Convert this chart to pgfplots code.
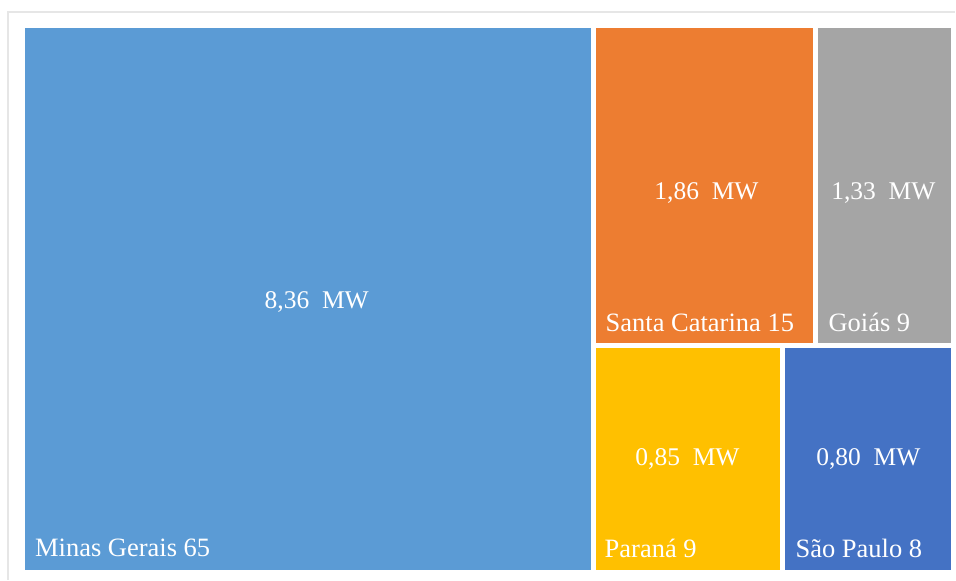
\documentclass[border=0pt]{standalone}
\usepackage{pgfplots}
\pgfplotsset{compat=1.18}
\usepackage{fontspec}
\setmainfont{Liberation Serif}
\definecolor{cMG}{HTML}{5B9BD5}
\definecolor{cSC}{HTML}{ED7D31}
\definecolor{cGO}{HTML}{A5A5A5}
\definecolor{cPR}{HTML}{FFC000}
\definecolor{cSP}{HTML}{4472C4}
\definecolor{frame}{HTML}{E6E6E6}
\tikzset{lab/.style={font=\fontsize{25.5}{30}\selectfont, text=white, inner sep=0pt},
         nam/.style={font=\fontsize{26.5}{30}\selectfont, text=white, inner sep=0pt, anchor=base west}}
\begin{document}
\begin{tikzpicture}
\begin{axis}[
  scale only axis, width=956pt, height=580pt,
  xmin=0, xmax=956, ymin=0, ymax=580, y dir=reverse,
  hide axis, clip=false,
]
\fill[white] (axis cs:0,0) rectangle (axis cs:956,580);
\draw[frame, line width=1.5pt] (axis cs:8,580) -- (axis cs:8,12) -- (axis cs:956,12);
% rectangles: treemap tiles (x0,y0)-(x1,y1) in pixel units
\addplot[fill=cMG, draw=none] coordinates {(25,28) (591,28) (591,570) (25,570)} -- cycle;
\addplot[fill=cSC, draw=none] coordinates {(596,28) (814,28) (814,343) (596,343)} -- cycle;
\addplot[fill=cGO, draw=none] coordinates {(819,28) (952,28) (952,343) (819,343)} -- cycle;
\addplot[fill=cPR, draw=none] coordinates {(596,348) (781,348) (781,570) (596,570)} -- cycle;
\addplot[fill=cSP, draw=none] coordinates {(786,348) (952,348) (952,570) (786,570)} -- cycle;
% value labels
\node[lab] at (axis cs:317,302) {8,36\ \ MW};
\node[lab] at (axis cs:707,193) {1,86\ \ MW};
\node[lab] at (axis cs:884,193) {1,33\ \ MW};
\node[lab] at (axis cs:688,459) {0,85\ \ MW};
\node[lab] at (axis cs:869,459) {0,80\ \ MW};
% name labels
\node[nam] at (axis cs:35,557) {Minas Gerais 65};
\node[nam] at (axis cs:606,332) {Santa Catarina 15};
\node[nam] at (axis cs:829,332) {Goiás 9};
\node[nam] at (axis cs:605,558) {Paraná 9};
\node[nam] at (axis cs:796,558) {São Paulo 8};
\end{axis}
\end{tikzpicture}
\end{document}
